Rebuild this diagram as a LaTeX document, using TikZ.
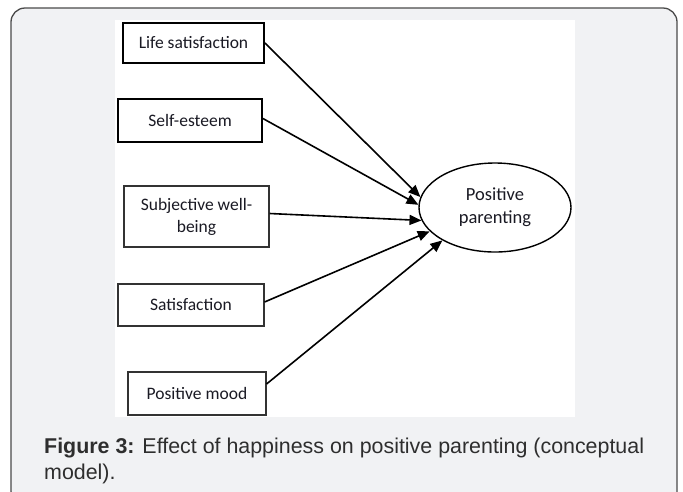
\documentclass[tikz,border=0pt]{standalone}
\usepackage{fontspec}
\setmainfont{Carlito}
\newfontfamily\capfont{Liberation Sans}
\usetikzlibrary{arrows.meta,shapes.geometric}
\definecolor{panelbg}{HTML}{F1F2F4}
\definecolor{panelline}{HTML}{4A4A4A}
\definecolor{boxtext}{HTML}{1A1A24}
\definecolor{captext}{HTML}{2E2E2E}
\tikzset{
  thickbox/.style={draw=black, line width=1.9pt, inner sep=0pt, font=\fontsize{17.5}{20}\selectfont, text=boxtext, align=center},
  thinbox/.style={draw=black!80, line width=1.1pt, inner sep=0pt, font=\fontsize{17.5}{22}\selectfont, text=boxtext, align=center},
  arr/.style={draw=black, line width=1.6pt, -{Triangle[length=12pt,width=10pt]}},
  captxt/.style={anchor=base west, inner sep=0pt, text=captext, font=\capfont\fontsize{21.4}{26}\selectfont}
}
\begin{document}
\begin{tikzpicture}[x=1pt,y=-1pt]
\useasboundingbox (0,0) rectangle (683,491);
% panel
\draw[panelline, fill=panelbg, line width=1.3pt, rounded corners=14pt] (11,8) rectangle (677,505);
% white figure area
\fill[white] (115,20) rectangle (575,417);
% boxes
\node[thickbox, minimum width=141pt, minimum height=40pt] (ls) at (193.5,43) {Life satisfaction};
\node[thickbox, minimum width=144pt, minimum height=43pt] (se) at (190,120.5) {Self-esteem};
\node[thinbox, minimum width=145pt, minimum height=61pt] (sw) at (196.5,216.5) {Subjective well-\\being};
\node[thinbox, minimum width=146pt, minimum height=42pt] (sa) at (191,305) {Satisfaction};
\node[thinbox, minimum width=138pt, minimum height=43pt] (pm) at (197,393.5) {Positive mood};
% ellipse
\node[ellipse, draw=black, line width=1.4pt, minimum width=152pt, minimum height=89pt, inner sep=0pt,
      font=\fontsize{18.5}{23}\selectfont, text=boxtext, align=center] (pp) at (495,207.5) {Positive\\parenting};
% arrows
\draw[arr] (ls.east) -- (pp.172);
\draw[arr] ([yshift=2pt]se.east) -- (pp.178);
\draw[arr] ([yshift=3pt]sw.east) -- (pp.190);
\draw[arr] ([yshift=3pt]sa.east) -- (pp.200);
\draw[arr] ([yshift=9.5pt]pm.east) -- (pp.212);
% caption
\node[captxt] (cap1) at (44,453) {\textbf{Figure 3:} Effect of happiness on positive parenting (conceptual};
\node[captxt] (cap2) at (44,479) {model).};
\end{tikzpicture}
\end{document}
